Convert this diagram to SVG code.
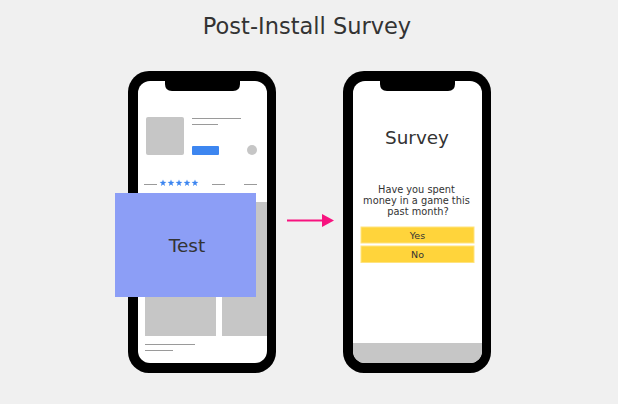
<svg xmlns="http://www.w3.org/2000/svg" width="618" height="404" viewBox="0 0 618 404">
<defs>
<style>
.bg{fill:#f0f0f0}
.frame{fill:#000}
.screen{fill:#fff}
.ph{fill:#c6c6c6}
.ln{stroke:#9a9a9a;stroke-width:1;fill:none}
.txt{font-family:"DejaVu Sans","Liberation Sans",sans-serif;fill:#333}
.btn{fill:#ffd43b;stroke:#ffe37f;stroke-width:1}
.conn{stroke:#f7137f;stroke-width:2;fill:none}
</style>
<clipPath id="scrL"><rect x="138" y="81" width="129" height="282" rx="12"/></clipPath>
<clipPath id="scrR"><rect x="353" y="81" width="129" height="282" rx="12"/></clipPath>
<path id="star" d="M0,-3.6 L0.85,-1.15 L3.4,-1.1 L1.35,0.45 L2.1,2.9 L0,1.45 L-2.1,2.9 L-1.35,0.45 L-3.4,-1.1 L-0.85,-1.15 Z" fill="#3d86f0"/>
<marker id="ah" markerWidth="12" markerHeight="13" refX="1" refY="6.5" orient="auto" markerUnits="userSpaceOnUse">
<path d="M0,0 L12,6.5 L0,13 Z" fill="#f7137f"/>
</marker>
</defs>
<rect class="bg" x="0" y="0" width="618" height="404"/>
<g id="title">
<text class="txt" x="307" y="33.5" font-size="22.5" text-anchor="middle">Post-Install Survey</text>
</g>
<g id="phone-store">
<rect class="frame" x="128" y="71" width="148" height="302" rx="21"/>
<rect class="screen" x="138" y="81" width="129" height="282" rx="12"/>
<path class="frame" d="M165,80 L165,84 Q165,91 172,91 L233,91 Q240,91 240,84 L240,80 Z"/>
<rect class="ph" x="146" y="117" width="38" height="38" rx="2"/>
<line class="ln" x1="192" y1="118.5" x2="241" y2="118.5"/>
<line class="ln" x1="192" y1="124.5" x2="218" y2="124.5"/>
<rect x="192" y="146" width="27" height="9" rx="1" fill="#3d86f0"/>
<circle class="ph" cx="252" cy="150" r="5"/>
<line class="ln" x1="144" y1="184.5" x2="157" y2="184.5"/>
<use href="#star" x="163" y="183"/>
<use href="#star" x="171" y="183"/>
<use href="#star" x="179" y="183"/>
<use href="#star" x="187" y="183"/>
<use href="#star" x="195" y="183"/>
<line class="ln" x1="212" y1="184.5" x2="225" y2="184.5"/>
<line class="ln" x1="244" y1="184.5" x2="257" y2="184.5"/>
<g clip-path="url(#scrL)">
<rect class="ph" x="145" y="202" width="71" height="134"/>
<rect class="ph" x="222" y="202" width="60" height="134"/>
</g>
<line class="ln" x1="145" y1="344.5" x2="195" y2="344.5"/>
<line class="ln" x1="145" y1="350.5" x2="173" y2="350.5"/>
</g>
<g id="test-box">
<rect x="115" y="193" width="141" height="104" fill="#8c9ef6"/>
<text class="txt" x="187" y="252" font-size="18.5" text-anchor="middle">Test</text>
</g>
<g id="connectors">
<line class="conn" x1="287" y1="220.5" x2="323" y2="220.5" marker-end="url(#ah)"/>
</g>
<g id="phone-survey">
<rect class="frame" x="343" y="71" width="148" height="302" rx="21"/>
<rect class="screen" x="353" y="81" width="129" height="282" rx="12"/>
<g clip-path="url(#scrR)">
<rect class="ph" x="350" y="343" width="135" height="25"/>
</g>
<path class="frame" d="M380,80 L380,84 Q380,91 387,91 L448,91 Q455,91 455,84 L455,80 Z"/>
<text class="txt" x="417" y="143.5" font-size="18.4" text-anchor="middle">Survey</text>
<text class="txt" font-size="9.8" text-anchor="middle">
<tspan x="418" y="192.5">Have you spent</tspan>
<tspan x="418" y="203.5">money in a game this</tspan>
<tspan x="418" y="214.5">past month?</tspan>
</text>
<rect class="btn" x="361" y="227" width="113" height="16"/>
<text class="txt" x="417.5" y="238.8" font-size="9.5" text-anchor="middle">Yes</text>
<rect class="btn" x="361" y="246" width="113" height="16.5"/>
<text class="txt" x="417.5" y="258" font-size="9.5" text-anchor="middle">No</text>
</g>
</svg>
